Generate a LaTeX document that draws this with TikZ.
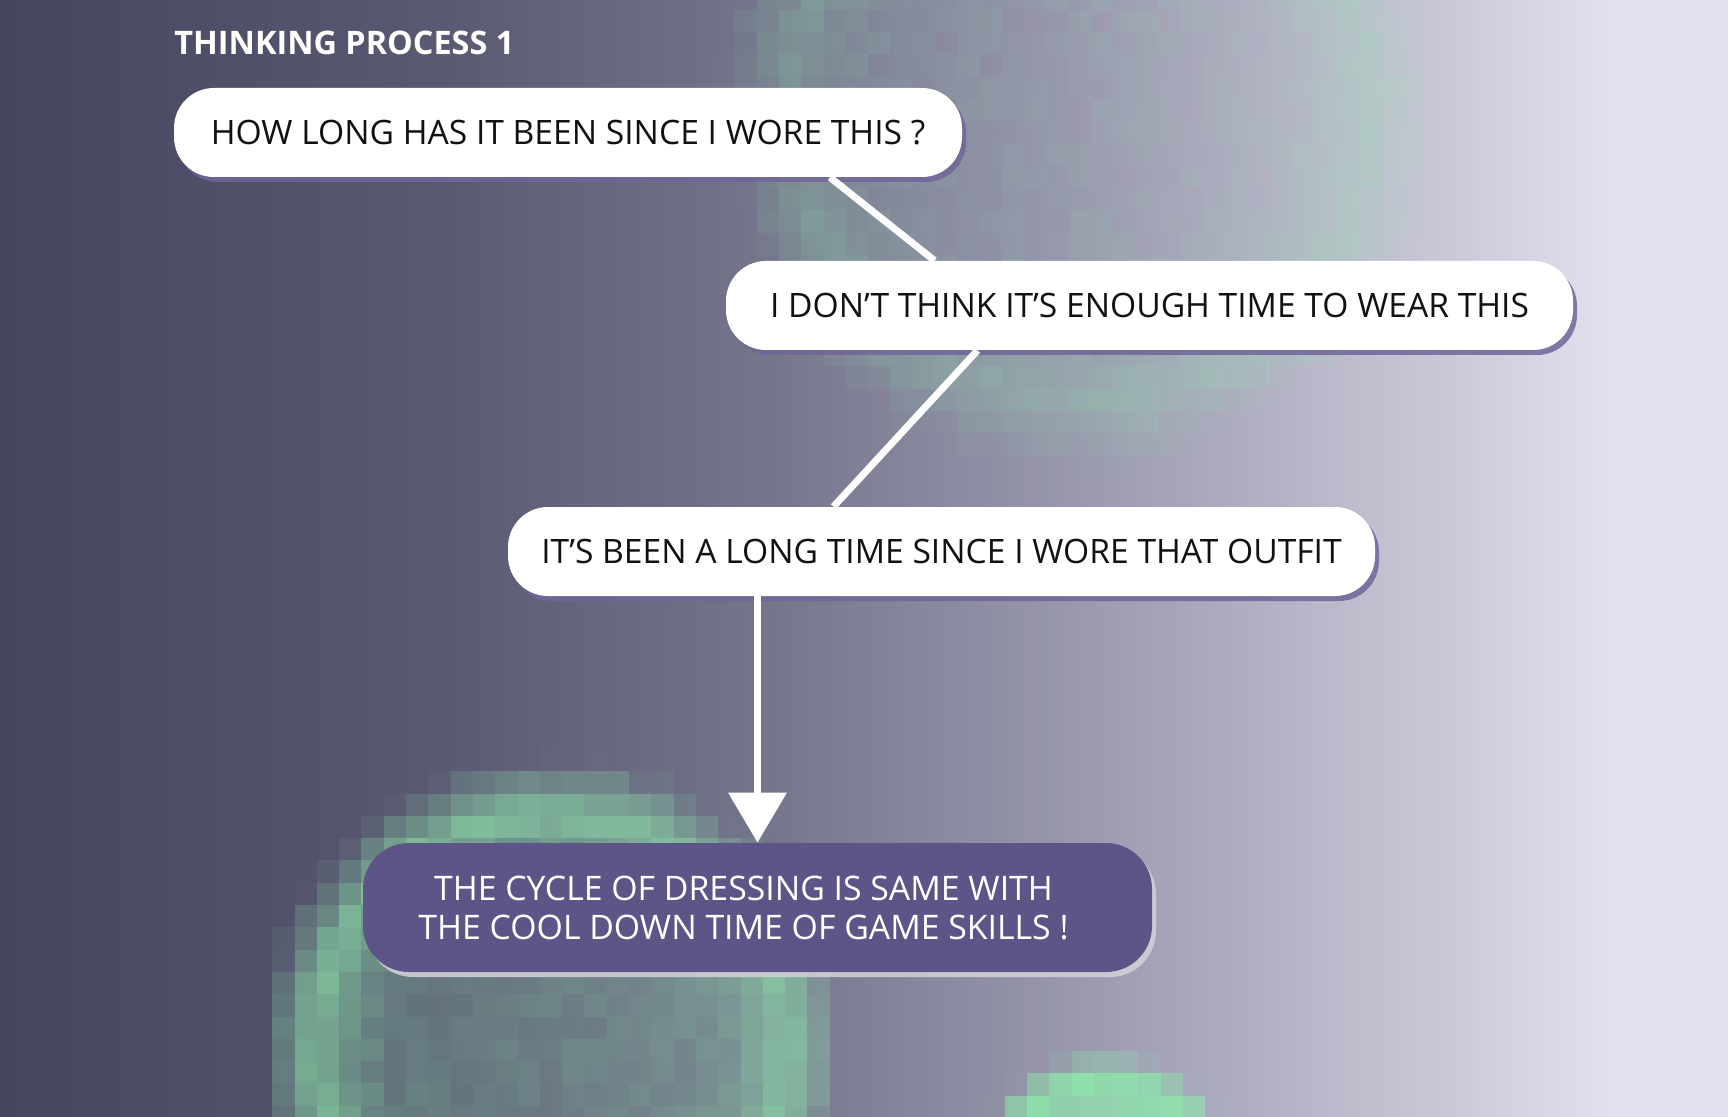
\documentclass[tikz,border=0pt]{standalone}
\usepackage{fontspec}
\setmainfont{Open Sans}
\usetikzlibrary{arrows.meta,shadows}

\definecolor{bgA}{HTML}{464560}
\definecolor{bgB}{HTML}{5A5972}
\definecolor{bgC}{HTML}{75758C}
\definecolor{bgD}{HTML}{9C9BB0}
\definecolor{bgE}{HTML}{C8C6D6}
\definecolor{bgF}{HTML}{E2E0EC}
\definecolor{mint}{HTML}{8EE6AC}
\definecolor{boxpurple}{HTML}{5D5488}
\definecolor{shadowpurple}{HTML}{6F6699}
\definecolor{shadowgray}{HTML}{D0CFD6}
\definecolor{ink}{HTML}{111111}

\pgfdeclarehorizontalshading{bgshade}{100bp}{color(0bp)=(bgA); color(25bp)=(bgA);
  color(37.7bp)=(bgB); color(47.3bp)=(bgC); color(56.8bp)=(bgD);
  color(66.4bp)=(bgE); color(71.5bp)=(bgF); color(100bp)=(bgF)}

% pixel blob: centre x, centre y, radius, inner opacity, rim opacity
\newcommand{\mosaic}[5]{%
  \foreach \i in {-17,...,17}
    \foreach \j in {-17,...,17}{
      \pgfmathsetmacro{\dd}{veclen(\i,\j)*22.3/#3}
      \pgfmathsetmacro{\op}{ifthenelse(\dd<0.92,#4+(#5-#4)*(\dd/0.92)^6,#5*(1-(\dd-0.92)/0.22))+0.05*rand}
      \ifdim\op pt>0.02pt
        \fill[mint,opacity=\op] (#1+\i*22.3-11.15,#2+\j*22.3-11.15) rectangle ++(22.3,22.3);
      \fi
    }%
}

\begin{document}
\begin{tikzpicture}[x=0.5pt,y=-0.5pt,
    thought/.style={fill=white, text=ink, rounded corners=20pt, minimum height=44.5pt,
      font=\fontsize{16.8}{20}\selectfont,
      drop shadow={shadow xshift=2pt,shadow yshift=-2.5pt,fill=shadowpurple,opacity=.85}},
    answer/.style={fill=boxpurple, text=white, align=center, rounded corners=23pt,
      minimum height=64.5pt, font=\fontsize{16.9}{19.5}\selectfont,
      drop shadow={shadow xshift=2pt,shadow yshift=-2.5pt,fill=shadowgray,opacity=.9}},
    link/.style={draw=white, line width=3.5pt}]
    \clip (0,0) rectangle (1728,1117);
    \shade[shading=bgshade] (0,0) rectangle (1728,1117);
    \pgfmathsetseed{7}
    \mosaic{1080}{110}{315}{0.06}{0.26}
    \mosaic{551}{1050}{256}{0.22}{0.7}
    \mosaic{1105}{1196}{127}{0.72}{0.88}

    \node[anchor=base west, inner sep=0, text=white, font=\bfseries\fontsize{16.2}{18}\selectfont]
      (title) at (174,55) {THINKING PROCESS 1};
    \node[thought, minimum width=394pt] (ask) at (568,132.5) {HOW LONG HAS IT BEEN SINCE I WORE THIS ?};
    \node[thought, minimum width=423.5pt] (doubt) at (1149.5,305.5) {I DON’T THINK IT’S ENOUGH TIME TO WEAR THIS};
    \node[thought, minimum width=433.5pt] (recall) at (941.5,551.5) {IT’S BEEN A LONG TIME SINCE I WORE THAT OUTFIT};
    \node[answer, minimum width=394.5pt] (insight) at (757.5,907.5)
      {THE CYCLE OF DRESSING IS SAME WITH\hspace*{14pt}\\THE COOL DOWN TIME OF GAME SKILLS !\hspace*{14pt}};

    \draw[link] ([xshift=131pt]ask.south) -- ([xshift=-107.5pt]doubt.north);
    \draw[link] ([xshift=-86pt]doubt.south) -- ([xshift=-54pt]recall.north);
    \draw[link, -{Triangle[width=28.5pt,length=25pt]}] (recall.south -| insight.north) -- (insight.north);
\end{tikzpicture}
\end{document}
